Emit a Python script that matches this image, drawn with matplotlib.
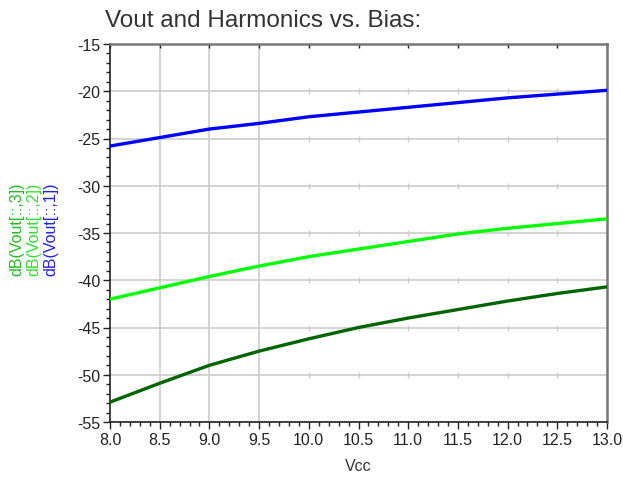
import matplotlib.pyplot as plt
from matplotlib.ticker import MultipleLocator

plt.rcParams['font.family'] = ['Liberation Sans', 'DejaVu Sans']
plt.rcParams['axes.unicode_minus'] = False

vcc = [8.0, 8.5, 9.0, 9.5, 10.0, 10.5, 11.0, 11.5, 12.0, 12.5, 13.0]
vout1 = [-25.8, -24.9, -24.0, -23.4, -22.7, -22.2, -21.7, -21.2, -20.7, -20.3, -19.9]
vout2 = [-42.0, -40.8, -39.6, -38.5, -37.5, -36.7, -35.9, -35.1, -34.5, -34.0, -33.5]
vout3 = [-52.9, -50.9, -49.0, -47.5, -46.2, -45.0, -44.0, -43.1, -42.2, -41.4, -40.7]

fig = plt.figure(figsize=(6.23, 4.81), dpi=100)
ax = fig.add_axes([110 / 623, 58 / 481, 497 / 623, 378 / 481])

ax.plot(vcc, vout1, color='#0000ff', lw=2.4, zorder=3)
ax.plot(vcc, vout2, color='#00ff00', lw=2.4, zorder=3)
ax.plot(vcc, vout3, color='#006400', lw=2.4, zorder=3)

ax.set_xlim(8.0, 13.0)
ax.set_ylim(-55, -15)
ax.xaxis.set_minor_locator(MultipleLocator(0.1))
ax.yaxis.set_major_locator(MultipleLocator(5))
ax.yaxis.set_minor_locator(MultipleLocator(1))
ax.set_xticks(vcc)
ax.set_xticklabels([f'{v:.1f}' for v in vcc])

# horizontal grid everywhere, vertical grid only on the left part
ax.yaxis.grid(True, color='#cccccc', lw=1.2, zorder=0)
for x in vcc[1:4]:
    ax.axvline(x, color='#cccccc', lw=1.2, zorder=0)
# small marks where the missing vertical grid lines would cross
for x in vcc[4:-1]:
    for y in range(-50, -14, 5):
        ax.plot(x, y, marker='|', ms=4, color='#cccccc', mew=1, zorder=1)

ax.tick_params(axis='both', which='major', length=5, width=1, labelsize=11.5,
               colors='#222222', pad=2)
ax.tick_params(axis='both', which='minor', length=3, width=1, colors='#222222')
ax.tick_params(axis='x', which='major', top=True, direction='out')
ax.tick_params(axis='x', which='minor', top=False)
for t in ax.xaxis.get_major_ticks():
    t.tick2line.set_color('#999999')
    t.tick2line.set_markersize(3)
    t.tick2line.set_marker(3)

for s in ['left', 'bottom']:
    ax.spines[s].set_color('#222222')
    ax.spines[s].set_linewidth(1.2)
for s in ['top', 'right']:
    ax.spines[s].set_color('#777777')
    ax.spines[s].set_linewidth(1.8)

fig.text(105 / 623, 1 - 21 / 481, 'Vout and Harmonics vs. Bias:', fontsize=17.5,
         color='#333333', ha='left', va='center')
ax.set_xlabel('Vcc', fontsize=11.5, color='#333333', labelpad=8)

labels = ['dB(Vout[::,3])', 'dB(Vout[::,2])', 'dB(Vout[::,1])']
colors = ['#22bb22', '#33dd33', '#2222ee']
xs = [17, 34, 51]
for lab, c, x in zip(labels, colors, xs):
    fig.text(x / 623, 1 - 229 / 481, lab, rotation=90, color=c, fontsize=11.5,
             ha='center', va='center')

fig.savefig('out.png', dpi=100)
